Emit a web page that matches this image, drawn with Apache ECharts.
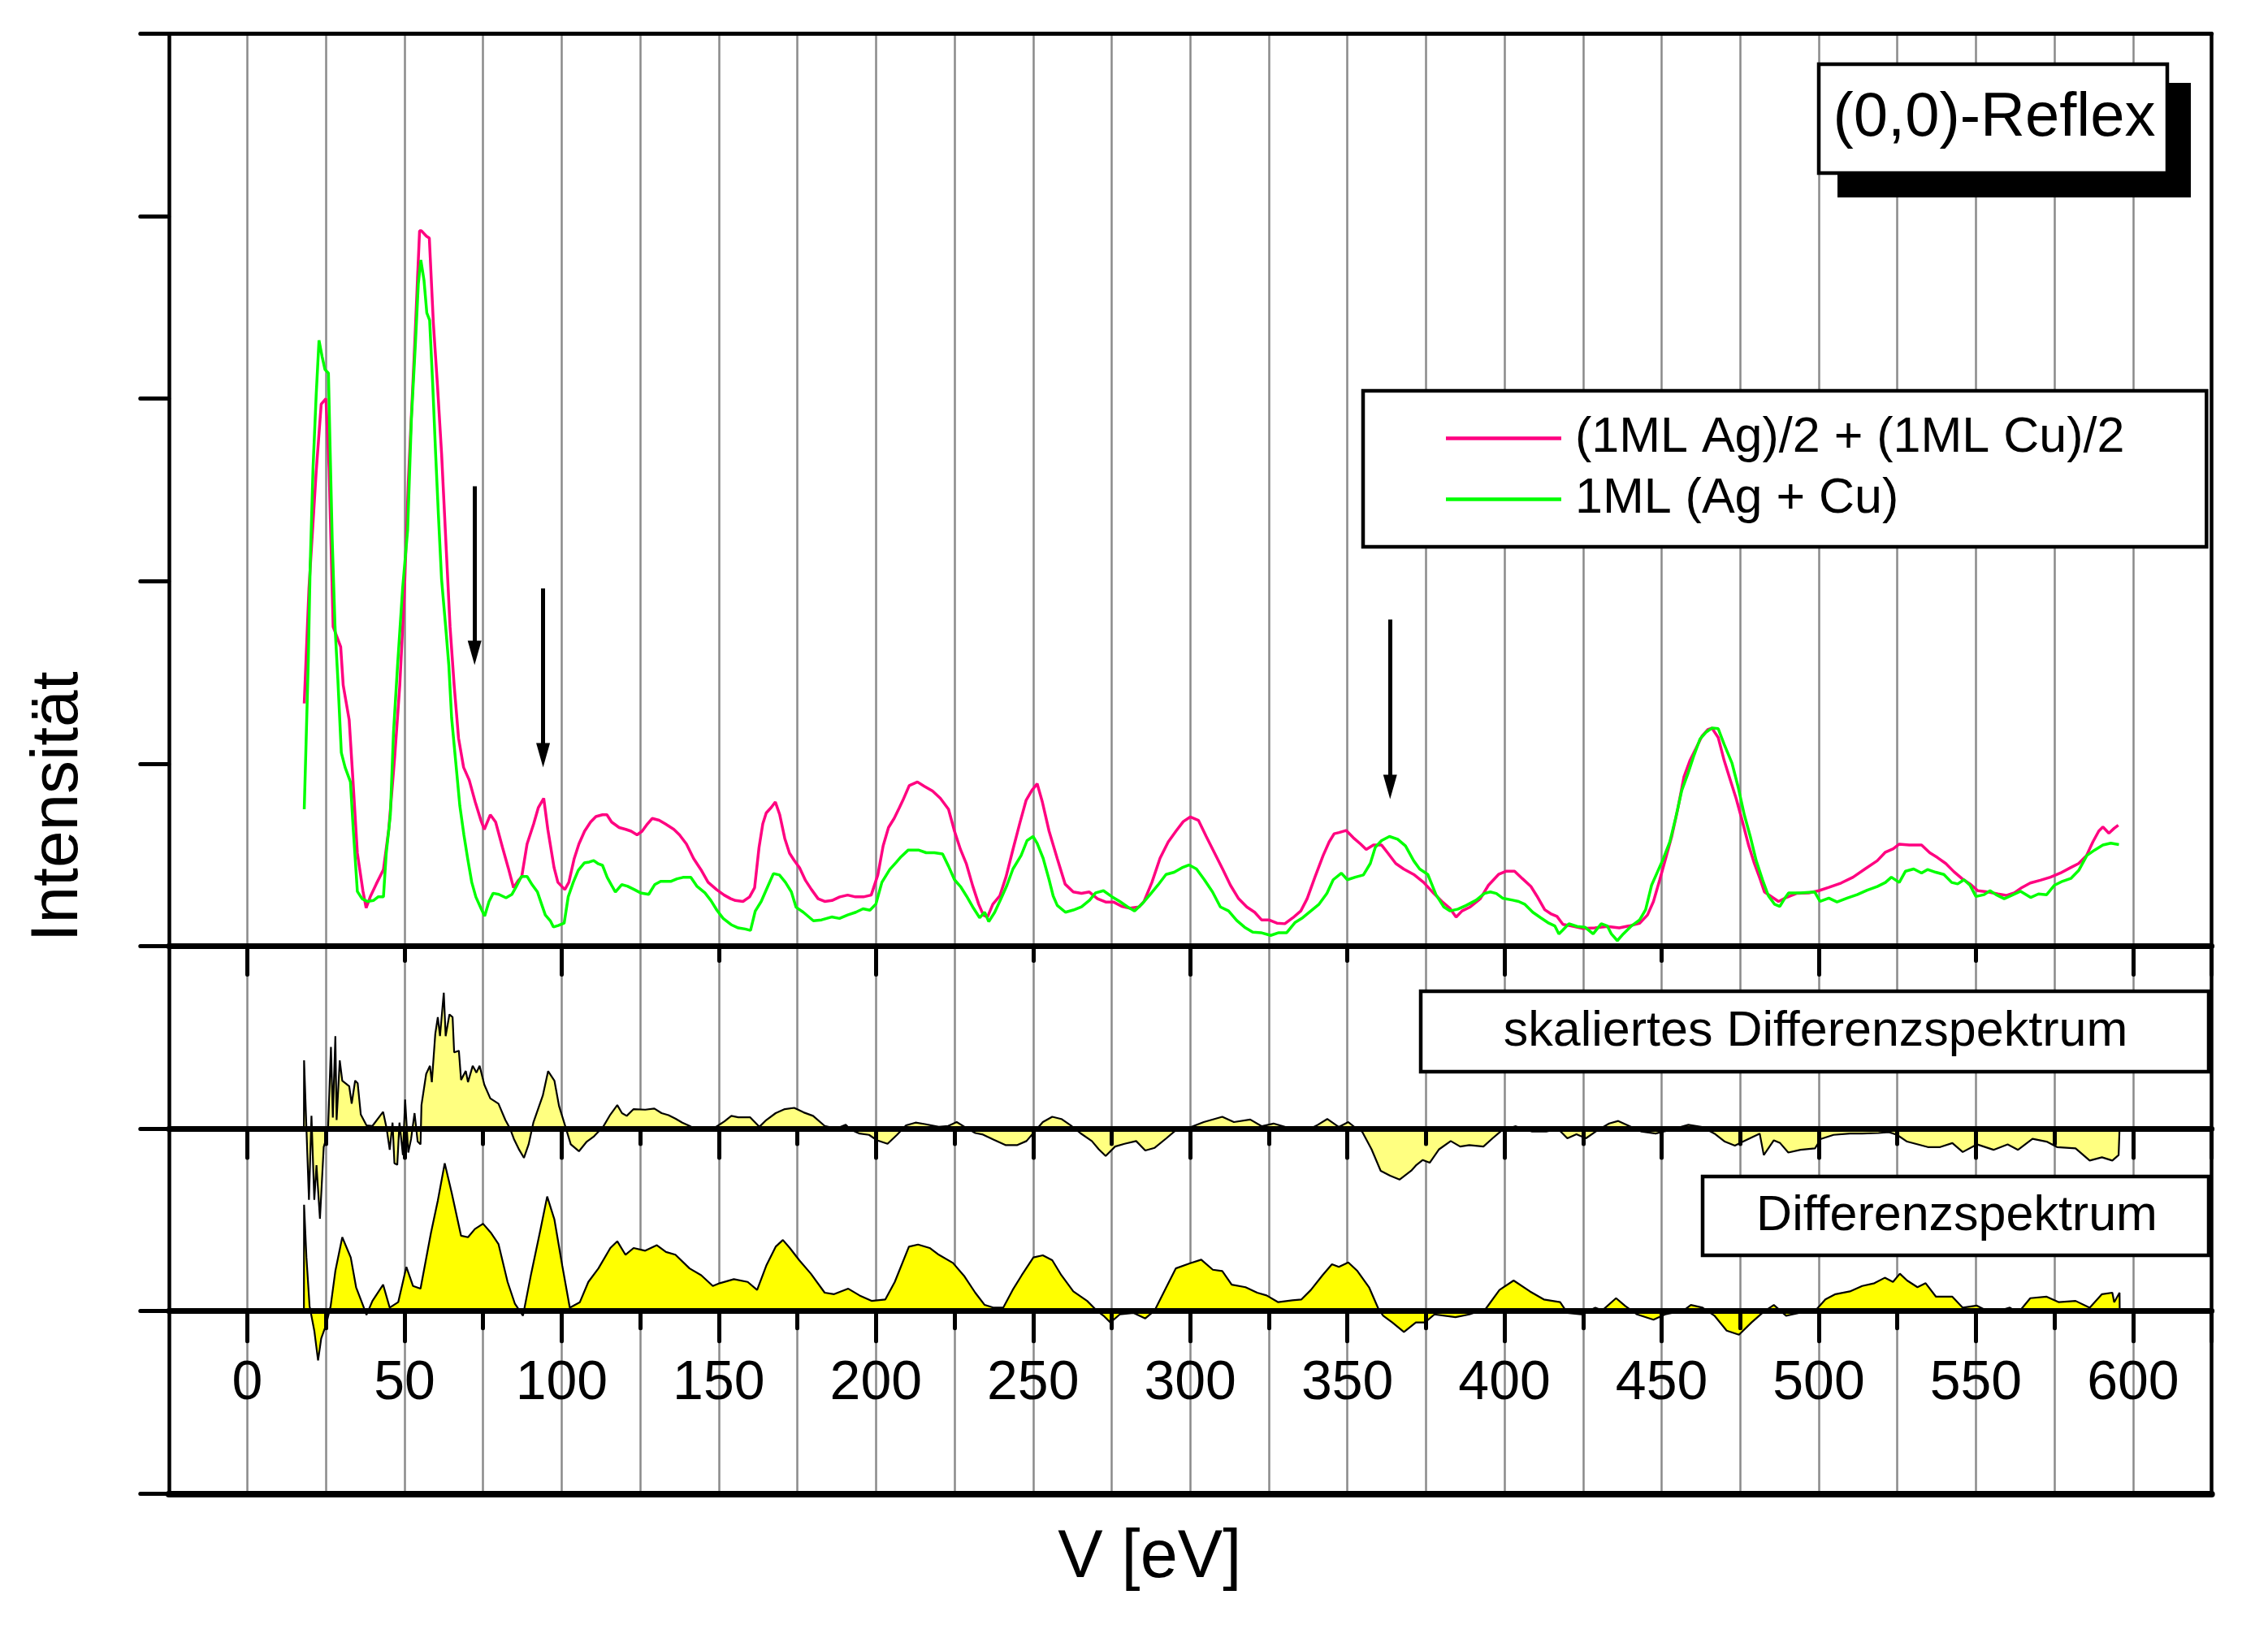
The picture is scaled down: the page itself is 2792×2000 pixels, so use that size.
<!DOCTYPE html>
<html>
<head>
<meta charset="utf-8">
<script src="https://cdn.jsdelivr.net/npm/echarts@6/dist/echarts.min.js"></script>
<style>
html,body{margin:0;padding:0;background:#fff;}
#chart{width:2792px;height:2000px;}
</style>
</head>
<body>
<div id="chart"></div>
<script>
// ---------------- data ----------------
// energy V [eV] , intensity (arbitrary units, 1 unit = 1 y-tick)
const pinkSeries = [[18.1,1.33],[19.6,1.96],[21.9,2.6],[23.5,2.97],[25,3.0],[26,2.62],[27.3,1.75],[29.7,1.64],[30.5,1.43],[32.4,1.24],[33.6,0.91],[35,0.51],[36.8,0.3],[37.8,0.21],[39.1,0.27],[41,0.34],[43.3,0.42],[45,0.64],[46.9,1.04],[48.5,1.43],[49.9,1.91],[51.2,2.54],[53.2,3.28],[54.8,3.92],[55.4,3.92],[57,3.89],[57.9,3.88],[59.2,3.41],[60.5,3.07],[61.8,2.7],[63.3,2.17],[64.5,1.75],[65.8,1.43],[67.2,1.14],[68.8,0.98],[70.6,0.91],[72.5,0.79],[74.3,0.69],[75.4,0.64],[77.3,0.72],[79,0.68],[81.2,0.54],[83,0.43],[84.7,0.32],[86.2,0.36],[87.3,0.38],[89,0.56],[91.1,0.67],[92.6,0.76],[94.3,0.81],[95.6,0.64],[97.6,0.43],[98.8,0.35],[101,0.31],[102.3,0.35],[104,0.48],[105.5,0.56],[107.3,0.63],[109.2,0.68],[110.9,0.71],[113,0.72],[114.4,0.72],[115.9,0.68],[118.3,0.65],[120.4,0.64],[122.1,0.63],[124,0.61],[125.6,0.63],[127.3,0.67],[128.8,0.7],[131,0.69],[133,0.67],[135.7,0.64],[137.5,0.61],[139.7,0.56],[142,0.48],[144.3,0.42],[146.6,0.35],[149.3,0.31],[151.7,0.28],[153.8,0.26],[155.3,0.25],[157.7,0.245],[159.8,0.27],[161.4,0.32],[162.8,0.54],[164,0.67],[165.1,0.73],[166.7,0.76],[168,0.79],[169.4,0.72],[171,0.59],[172.5,0.51],[174,0.47],[175.7,0.43],[177.6,0.36],[179.5,0.31],[181.6,0.26],[183.7,0.245],[186,0.25],[188.5,0.27],[191,0.28],[193.5,0.27],[196,0.27],[198.5,0.28],[200.6,0.39],[202.3,0.55],[204,0.65],[205.8,0.7],[207.5,0.76],[208.6,0.8],[210.6,0.88],[213.2,0.9],[215.4,0.876],[218,0.85],[220.5,0.81],[223.1,0.75],[225,0.63],[226.9,0.53],[228.8,0.45],[230.8,0.33],[232.7,0.23],[234.2,0.17],[235.5,0.16],[237.2,0.23],[239.4,0.275],[241.4,0.38],[243.6,0.53],[245.8,0.675],[247.8,0.8],[249.6,0.853],[251.3,0.89],[252.9,0.794],[255.1,0.63],[257.7,0.48],[260.2,0.34],[262.8,0.297],[265.4,0.289],[267.9,0.297],[270.5,0.26],[273.1,0.242],[275.6,0.242],[278.2,0.218],[280.8,0.208],[283.7,0.215],[285.3,0.245],[287.8,0.349],[290.4,0.482],[293,0.571],[295.5,0.631],[297.8,0.683],[300,0.708],[302.6,0.69],[305.1,0.601],[307.7,0.512],[310.3,0.423],[312.8,0.334],[315.4,0.26],[318,0.215],[320.5,0.186],[322.7,0.144],[325,0.144],[327.6,0.126],[330.1,0.123],[332.7,0.156],[335.2,0.193],[337.2,0.26],[339.7,0.379],[342.3,0.497],[344.2,0.571],[345.8,0.616],[347.4,0.623],[349.6,0.634],[351.9,0.594],[354.2,0.56],[356,0.53],[358.3,0.554],[360.9,0.554],[362.8,0.512],[365.4,0.453],[367.9,0.423],[371.1,0.393],[374.3,0.349],[377.5,0.289],[380.1,0.245],[382.6,0.208],[384.6,0.159],[386.5,0.193],[389.1,0.215],[392.3,0.26],[394.9,0.334],[398.1,0.393],[400.6,0.411],[403.2,0.411],[405.7,0.37],[408.4,0.327],[410.3,0.275],[412.8,0.2],[414.7,0.178],[416.7,0.163],[418.6,0.119],[421.2,0.111],[425,0.097],[428.8,0.1],[432.7,0.108],[436.5,0.1],[439.7,0.111],[443,0.126],[445.5,0.171],[447.4,0.245],[449.4,0.364],[451.3,0.482],[453.2,0.601],[455.1,0.75],[457.1,0.928],[459,1.017],[460.9,1.083],[462.8,1.15],[464.7,1.187],[466,1.195],[468,1.143],[469.9,1.017],[471.8,0.913],[473.7,0.809],[475.6,0.69],[477.6,0.557],[479.5,0.453],[481.4,0.364],[482.7,0.297],[484.6,0.275],[487.2,0.245],[489.7,0.267],[492.9,0.289],[496.8,0.292],[500,0.304],[503.2,0.322],[507.1,0.346],[510.9,0.378],[514.7,0.423],[518.6,0.468],[521.2,0.515],[523.7,0.534],[525.6,0.559],[528.8,0.554],[532.7,0.554],[535.3,0.512],[537.8,0.485],[540.4,0.453],[543,0.408],[545.5,0.371],[548.1,0.341],[550.6,0.304],[553.8,0.297],[557,0.286],[559.6,0.278],[562.2,0.292],[564.7,0.322],[567.3,0.346],[570.5,0.361],[573.7,0.378],[576.9,0.401],[580.1,0.43],[582.7,0.453],[585.2,0.497],[587.2,0.571],[589.1,0.631],[590.4,0.653],[592.3,0.619],[594,0.646],[595.3,0.663]];

const greenSeries = [[18.1,0.75],[18.6,1.06],[19.4,1.57],[20,2.09],[20.9,2.62],[21.9,3.02],[22.8,3.32],[23.8,3.23],[24.7,3.16],[25.8,3.14],[26.3,2.75],[27,2.23],[27.9,1.75],[28.8,1.46],[29.9,1.06],[31.1,0.98],[32.8,0.9],[33.7,0.64],[35,0.3],[36.5,0.26],[38.2,0.245],[40.1,0.25],[41.6,0.27],[43.3,0.27],[44.2,0.51],[45.5,0.72],[46.5,1.17],[47.8,1.54],[49.4,1.96],[51,2.28],[52.2,2.89],[53.5,3.31],[54.4,3.63],[55.2,3.76],[56.2,3.65],[57.1,3.47],[58,3.43],[59,3.07],[59.9,2.7],[60.8,2.36],[61.8,2.01],[63.1,1.75],[64.1,1.54],[65,1.25],[66.3,1.01],[67.6,0.77],[68.9,0.61],[70.1,0.48],[71.4,0.35],[72.7,0.27],[74.4,0.205],[75.5,0.165],[76.9,0.245],[78.2,0.29],[80,0.284],[82.3,0.265],[84.2,0.284],[85.5,0.324],[87.2,0.382],[89,0.382],[90.6,0.337],[92.3,0.297],[93.6,0.231],[94.8,0.171],[96.4,0.139],[97.4,0.105],[98.9,0.113],[100.8,0.126],[102.1,0.271],[103.7,0.35],[105.3,0.416],[107.2,0.456],[108.8,0.461],[110.2,0.469],[111.7,0.451],[113,0.443],[114.5,0.377],[116.2,0.324],[117.1,0.297],[119.1,0.337],[120.9,0.329],[123,0.311],[125.1,0.292],[127.7,0.284],[129.6,0.337],[131.5,0.355],[134.7,0.355],[136.7,0.369],[138.6,0.377],[141.1,0.377],[143,0.329],[145.6,0.292],[147.5,0.25],[149.4,0.197],[151.4,0.152],[153.9,0.118],[156.2,0.1],[158.4,0.094],[160.1,0.086],[161.6,0.192],[163.5,0.245],[165.5,0.324],[167.4,0.398],[169.3,0.39],[171.2,0.35],[173.1,0.297],[174.6,0.213],[176.9,0.186],[180.1,0.139],[182.7,0.144],[185.9,0.16],[188.4,0.152],[191,0.171],[193.6,0.186],[195.9,0.205],[198.1,0.197],[200,0.231],[201.9,0.35],[204.4,0.42],[206.5,0.46],[208,0.49],[210.3,0.527],[213.5,0.527],[216,0.512],[218.6,0.512],[221.2,0.505],[223.1,0.438],[225,0.364],[226.9,0.327],[228.8,0.275],[230.8,0.215],[233,0.156],[234.6,0.186],[235.9,0.134],[237.8,0.186],[239.8,0.26],[241.7,0.334],[243.6,0.423],[246.2,0.497],[248.1,0.579],[250,0.601],[251.3,0.564],[253.2,0.482],[255.1,0.364],[256.4,0.275],[257.7,0.223],[260.3,0.186],[262.8,0.198],[265.4,0.215],[268,0.252],[269.9,0.292],[272.4,0.304],[275,0.272],[277.6,0.245],[280.1,0.215],[282.3,0.193],[284.6,0.23],[287.2,0.282],[289.7,0.334],[292.3,0.393],[294.9,0.405],[297.4,0.43],[299.6,0.445],[302,0.423],[304.5,0.364],[307.1,0.297],[309.6,0.215],[312.2,0.193],[314.8,0.141],[317.3,0.104],[319.9,0.077],[322.5,0.074],[325.6,0.059],[328.2,0.074],[330.7,0.074],[333.3,0.129],[335.8,0.156],[338.4,0.193],[341,0.23],[343.5,0.289],[345.5,0.364],[348.1,0.4],[350,0.364],[352.5,0.378],[355.1,0.39],[357.3,0.453],[358.9,0.542],[360.9,0.579],[363.4,0.601],[366,0.586],[368.5,0.549],[371.1,0.468],[373,0.423],[375.6,0.393],[378.2,0.282],[380.7,0.215],[382.7,0.193],[385.2,0.203],[387.8,0.223],[391,0.252],[393.6,0.289],[395.5,0.297],[397.4,0.289],[399.4,0.263],[402.6,0.252],[404.5,0.245],[406.4,0.23],[409,0.186],[411.5,0.156],[414.1,0.126],[416,0.111],[417.3,0.067],[418.6,0.089],[420.5,0.123],[423.1,0.108],[425.6,0.104],[428.2,0.067],[430.8,0.123],[432.7,0.111],[434,0.067],[435.9,0.03],[437.8,0.067],[440.4,0.111],[443,0.144],[444.9,0.2],[446.8,0.334],[448.7,0.408],[450.6,0.482],[452.6,0.571],[454.5,0.705],[456.4,0.853],[458.3,0.942],[460.3,1.046],[462.2,1.135],[464.1,1.172],[466,1.195],[468,1.192],[469.9,1.106],[472.4,1.002],[474.4,0.868],[476.3,0.72],[478.2,0.601],[480.1,0.468],[482.1,0.364],[484,0.275],[485.9,0.23],[487.6,0.218],[489.1,0.26],[490.4,0.292],[494.2,0.292],[498.7,0.297],[500.4,0.245],[503.2,0.263],[505.8,0.242],[509,0.263],[512.2,0.282],[515.4,0.307],[518.6,0.327],[521.2,0.349],[523.1,0.378],[525.6,0.349],[527.6,0.411],[530.2,0.423],[532.7,0.401],[534.6,0.42],[537.2,0.405],[539.8,0.393],[542.3,0.349],[544.2,0.341],[546.2,0.364],[548.1,0.334],[550,0.272],[552.6,0.282],[554.5,0.304],[556.4,0.282],[559,0.26],[561,0.275],[564.2,0.301],[567.4,0.267],[569.9,0.286],[572.5,0.282],[575,0.334],[577.6,0.356],[580.2,0.371],[582.7,0.415],[585.3,0.497],[587.8,0.527],[590.4,0.554],[592.9,0.564],[595.5,0.557]];

const scaledDiffSeries = [[18,0],[18.05,0.374],[18.8,0.0],[19.6,-0.39],[20.4,0.07],[21.3,-0.39],[22,-0.2],[23.1,-0.494],[24.3,-0.1],[25,-0.06],[25.7,0.01],[26.6,0.448],[27.2,0.061],[28,0.507],[28.4,0.047],[29.4,0.374],[30.2,0.263],[32.4,0.233],[33.2,0.137],[34.3,0.263],[35.1,0.249],[36.1,0.077],[37.9,0.018],[39.8,0.015],[43.2,0.092],[44.3,0.003],[45.3,-0.116],[46.2,0.033],[46.8,-0.19],[47.7,-0.198],[48.4,0.033],[49.5,-0.145],[50.2,0.159],[51.2,-0.131],[52.1,-0.056],[53.2,0.085],[54.2,-0.071],[55.1,-0.086],[55.4,0.129],[56.9,0.3],[58.1,0.344],[58.7,0.255],[59.8,0.52],[60.6,0.611],[61.3,0.507],[62.5,0.745],[63.1,0.507],[64.3,0.626],[65.3,0.611],[65.8,0.418],[67.3,0.427],[68,0.267],[69.5,0.316],[70.2,0.255],[71.7,0.344],[72.9,0.307],[73.9,0.344],[75.4,0.241],[77.3,0.166],[79.9,0.137],[82.1,0.047],[83.6,0],[84.8,-0.056],[86.5,-0.116],[88,-0.16],[89.5,-0.086],[91,0.033],[94,0.181],[95.7,0.315],[97.7,0.263],[99.2,0.122],[101.4,0],[102.9,-0.086],[105.5,-0.124],[108,-0.071],[110.3,-0.042],[113.2,0.01],[115.5,0.077],[117.7,0.129],[119.2,0.085],[120.7,0.07],[122.9,0.107],[126.6,0.104],[129.5,0.11],[131.8,0.085],[134,0.074],[136.2,0.055],[138.4,0.033],[140.7,0.015],[143.6,-0.012],[147.3,-0.009],[149.6,0.015],[151.8,0.04],[154,0.07],[156.2,0.062],[160,0.062],[162.9,0.01],[165.1,0.047],[168.1,0.085],[171,0.107],[174,0.114],[177,0.089],[180,0.07],[183.7,0.015],[187.4,0],[190.4,0.021],[191.8,-0.004],[194.8,-0.027],[197.8,-0.034],[200.4,-0.064],[203.7,-0.083],[206.7,-0.034],[209.6,0.018],[212.6,0.033],[215.6,0.025],[220,0.01],[223,0.015],[225.7,0.036],[228.2,0.01],[231.6,-0.024],[233.8,-0.031],[237.5,-0.061],[241.2,-0.09],[245,-0.09],[247.9,-0.068],[250.1,-0.024],[253.1,0.036],[256.1,0.065],[259,0.053],[262,0.018],[265,-0.024],[268.7,-0.068],[270.9,-0.113],[273.1,-0.15],[276.1,-0.098],[279.1,-0.083],[282.8,-0.068],[285.7,-0.12],[288.7,-0.105],[292.4,-0.053],[295.4,-0.009],[299.8,0.006],[304.3,0.036],[310.2,0.065],[313.9,0.036],[319.1,0.05],[322.8,0.013],[326.5,0.028],[333.9,-0.009],[336.9,-0.012],[340.6,0.021],[343.6,0.053],[347.3,0.009],[350.3,0.036],[352.5,0.006],[354.7,-0.016],[357.7,-0.113],[360.6,-0.231],[363.6,-0.258],[366.6,-0.279],[370.3,-0.231],[371.8,-0.202],[374,-0.172],[376.2,-0.187],[379.2,-0.113],[382.9,-0.068],[385.9,-0.098],[388.8,-0.09],[393.3,-0.098],[396.2,-0.053],[399.2,-0.009],[403.6,0.013],[408.8,-0.016],[413.3,-0.016],[417,-0.001],[420,-0.053],[422.9,-0.031],[425.9,-0.053],[429.6,-0.009],[433.3,0.028],[436.2,0.042],[439.9,0.013],[443.6,-0.016],[448.1,-0.027],[454,-0.001],[458.5,0.021],[462.9,0.009],[466.8,-0.027],[470.1,-0.071],[473.3,-0.093],[475.9,-0.071],[481.2,-0.027],[482.5,-0.145],[485.7,-0.064],[487.7,-0.079],[490.3,-0.131],[494.2,-0.116],[498.8,-0.108],[500.7,-0.056],[504.7,-0.034],[509.9,-0.027],[513.8,-0.027],[519,-0.024],[522.3,-0.019],[524.9,-0.034],[528.1,-0.071],[530.8,-0.083],[534.7,-0.101],[538.6,-0.101],[542.5,-0.079],[545.8,-0.128],[550.3,-0.086],[555.6,-0.116],[560.1,-0.086],[563.4,-0.116],[568,-0.056],[572.5,-0.071],[575.8,-0.101],[581.7,-0.108],[586.2,-0.175],[590.1,-0.157],[593.4,-0.175],[595.4,-0.145],[595.7,0]];

const diffSeries = [[18,0],[18.05,0.583],[18.8,0.294],[19.8,0.027],[21.3,-0.107],[22.5,-0.27],[23.5,-0.15],[25,-0.077],[26.5,0.027],[28,0.22],[30.2,0.405],[32.9,0.294],[34.6,0.131],[36.9,0.027],[37.9,-0.021],[39.8,0.056],[43.2,0.145],[45.3,0.019],[48,0.049],[50.6,0.242],[52.7,0.138],[55.1,0.123],[58.4,0.427],[60.6,0.605],[62.8,0.81],[65,0.65],[68,0.413],[70.2,0.405],[72.4,0.45],[75,0.479],[77.6,0.427],[79.9,0.368],[82.8,0.16],[85.1,0.042],[87.7,-0.025],[90.3,0.205],[93.2,0.442],[95.4,0.628],[97.7,0.502],[100.2,0.249],[102.6,0.019],[105.8,0.049],[108.5,0.16],[111.7,0.234],[115.5,0.346],[117.7,0.383],[120.3,0.309],[122.9,0.346],[126.6,0.331],[130.3,0.361],[133.2,0.324],[136.2,0.309],[140.7,0.234],[144.4,0.197],[148.1,0.138],[150.3,0.153],[154.8,0.175],[159.2,0.16],[162.2,0.116],[165.1,0.249],[168.1,0.353],[170.4,0.39],[172.6,0.346],[175.6,0.279],[179.3,0.205],[183.7,0.101],[186.7,0.093],[191.2,0.123],[194.8,0.086],[198.6,0.056],[203,0.064],[206,0.16],[210.5,0.353],[213.4,0.365],[217.1,0.346],[220,0.309],[224.5,0.264],[228.2,0.19],[231.6,0.101],[234.6,0.034],[237.5,0.019],[240.5,0.019],[243.5,0.116],[246.4,0.197],[250.1,0.294],[253.1,0.306],[256.1,0.279],[259,0.197],[262.8,0.108],[267.2,0.056],[270.2,0.004],[272.4,-0.025],[274.6,-0.062],[277.6,-0.018],[282,-0.01],[285.7,-0.04],[288.7,0.004],[292.4,0.131],[295.4,0.234],[299.8,0.261],[303.5,0.282],[307.2,0.227],[310.2,0.22],[313.2,0.145],[317.6,0.131],[321.3,0.101],[324.3,0.086],[328,0.049],[332.5,0.059],[335.4,0.064],[338.4,0.116],[342.1,0.197],[345.1,0.257],[347.3,0.242],[350.3,0.267],[353.2,0.22],[356.9,0.131],[359.9,0.012],[361.4,-0.025],[364.3,-0.062],[368,-0.114],[371.8,-0.062],[374.7,-0.062],[377.7,-0.018],[384.4,-0.033],[388.8,-0.018],[394,0.012],[398.4,0.116],[402.9,0.168],[408.1,0.108],[412.5,0.064],[417.7,0.049],[420,-0.01],[424.4,-0.018],[428.9,0.019],[431.1,0.004],[435.5,0.071],[438.5,0.027],[442.2,-0.018],[447.4,-0.047],[451.1,-0.018],[457,0.004],[459.3,0.034],[463,0.019],[466.8,-0.025],[470.7,-0.107],[474.6,-0.129],[478.6,-0.062],[482.5,-0.003],[485.7,0.034],[489.6,-0.025],[491.6,-0.018],[495.5,-0.003],[499.4,0.012],[502.1,0.064],[505.3,0.093],[509.9,0.108],[513.8,0.138],[517.7,0.153],[521,0.183],[523.6,0.16],[525.8,0.205],[528.1,0.168],[531.4,0.131],[534,0.153],[537.3,0.079],[542.5,0.079],[545.8,0.019],[550.3,0.03],[554.9,-0.01],[560.8,0.019],[563.4,-0.01],[567.3,0.071],[572.5,0.079],[576.4,0.049],[581.7,0.056],[586.2,0.019],[590.1,0.093],[593.4,0.101],[594,0.049],[595.7,0.101],[595.75,0]];

// arrows: [energy, start intensity, tip intensity]
const arrowMarks = [[72.3, 2.52, 1.54], [94.1, 1.96, 0.98], [363.6, 1.79, 0.806]];

const xTickLabels = [0,50,100,150,200,250,300,350,400,450,500,550,600];
const seriesNames = ['(1ML Ag)/2 + (1ML Cu)/2', '1ML (Ag + Cu)'];
const boxTexts = ['(0,0)-Reflex', 'skaliertes Differenzspektrum', 'Differenzspektrum'];
const axisTitles = ['V [eV]', 'Intensität'];

// ---------------- layout ----------------
const FONT = 'Liberation Sans, Arial, sans-serif';
const X0 = 304.5;      // pixel of 0 eV
const K = 3.869;       // px per eV
const TOP = 41.5;      // top of frame
const U = 224.6;       // px per y tick
const FL = X0 - 25 * K;
const FW = 650 * K;
const LINE1 = TOP + 5 * U, LINE2 = TOP + 6 * U, LINE3 = TOP + 7 * U;

const chart = echarts.init(document.getElementById('chart'), null, {renderer: 'canvas'});

const hiddenY = (grid, min, max) => ({gridIndex: grid, type: 'value', min, max, show: false});
const lineX = (grid, width, onZero) => ({
  gridIndex: grid, type: 'value', min: -25, max: 625,
  axisLine: {show: true, onZero: onZero, lineStyle: {color: '#000', width: width}},
  axisTick: {show: false}, axisLabel: {show: false}, splitLine: {show: false}, z: 5
});
const tickX = (grid, interval, len, extra) => Object.assign({
  gridIndex: grid, type: 'value', min: 0, max: 625, interval: interval,
  axisLine: {show: false, onZero: false},
  axisTick: {show: true, length: len, lineStyle: {color: '#000', width: 5, cap: 'round'}},
  axisLabel: {show: false}, splitLine: {show: false}, z: 6
}, extra || {});
const tickGrid = (bottom) => ({left: X0, top: bottom - U, width: 625 * K, height: U});

const arrowLines = arrowMarks.map(a => [
  {coord: [a[0], a[1]], symbol: 'none'},
  {coord: [a[0], a[2] + 15 / U], symbol: 'triangle', symbolSize: [17, 30]}
]);

const option = {
  animation: false,
  backgroundColor: '#fff',
  grid: [
    {left: FL, top: TOP, width: FW, height: 8 * U},          // 0 frame
    {left: FL, top: TOP, width: FW, height: 5 * U},          // 1 top panel
    {left: FL, top: LINE1, width: FW, height: 2 * U},        // 2 scaled diff
    {left: FL, top: LINE2, width: FW, height: 2 * U},        // 3 diff
    tickGrid(LINE1), tickGrid(LINE1),                        // 4,5 ticks line 1
    tickGrid(LINE2), tickGrid(LINE2),                        // 6,7 ticks line 2
    tickGrid(LINE3), tickGrid(LINE3)                         // 8,9 ticks line 3
  ],
  xAxis: [
    {gridIndex: 0, type: 'value', min: -25, max: 625, interval: 25, position: 'bottom',
     axisLine: {show: true, onZero: false, lineStyle: {color: '#000', width: 8}},
     axisTick: {show: false}, axisLabel: {show: false},
     splitLine: {show: true, lineStyle: {color: '#8a8a8a', width: 2.5}},
     name: axisTitles[0], nameLocation: 'middle', nameGap: 38,
     nameTextStyle: {fontSize: 83, fontFamily: FONT, color: '#000', padding: [0, 100, 0, 0]}},
    {gridIndex: 0, type: 'value', min: -25, max: 625, position: 'top',
     axisLine: {show: true, onZero: false, lineStyle: {color: '#000', width: 5}},
     axisTick: {show: false}, axisLabel: {show: false}, splitLine: {show: false}},
    lineX(1, 7, false),
    lineX(2, 7, true),
    lineX(3, 7, true),
    tickX(4, 50, 18),
    tickX(5, 100, 35),
    tickX(6, 25, 19),
    tickX(7, 50, 36),
    tickX(8, 25, 21),
    tickX(9, 50, 37, {axisLabel: {show: true, margin: 56, fontSize: 68, fontFamily: FONT, color: '#000',
      formatter: v => xTickLabels.includes(v) ? String(v) : ''}})
  ],
  yAxis: [
    {gridIndex: 0, type: 'value', min: 0, max: 8, interval: 1, position: 'left',
     axisLine: {show: true, onZero: false, lineStyle: {color: '#000', width: 4.5}},
     axisTick: {show: true, inside: false, length: 35, lineStyle: {color: '#000', width: 5, cap: 'round'}},
     axisLabel: {show: false}, splitLine: {show: false},
     name: axisTitles[1], nameLocation: 'middle', nameGap: 94, nameRotate: 90,
     nameTextStyle: {fontSize: 82, fontFamily: FONT, color: '#000', padding: [0, 106, 0, 0]}},
    {gridIndex: 0, type: 'value', min: 0, max: 8, position: 'right',
     axisLine: {show: true, onZero: false, lineStyle: {color: '#000', width: 4.5}},
     axisTick: {show: false}, axisLabel: {show: false}, splitLine: {show: false}},
    hiddenY(1, 0, 5),
    hiddenY(2, -1, 1),
    hiddenY(3, -1, 1),
    hiddenY(4, 0, 1), hiddenY(5, 0, 1),
    hiddenY(6, 0, 1), hiddenY(7, 0, 1),
    hiddenY(8, 0, 1), hiddenY(9, 0, 1)
  ],
  legend: {
    data: seriesNames.map(n => ({name: n, icon: 'rect'})), orient: 'vertical', left: 1678, top: 481,
    itemWidth: 142, itemHeight: 4.5, itemGap: 14,
    padding: [28, 101, 28, 102],
    backgroundColor: '#fff', borderColor: '#000', borderWidth: 4.5, borderRadius: 0,
    selectedMode: false,
    textStyle: {fontSize: 61, fontFamily: FONT, color: '#000', lineHeight: 61, padding: [0, 0, 0, 12]}
  },
  series: [
    {name: seriesNames[0], type: 'line', xAxisIndex: 2, yAxisIndex: 2, data: pinkSeries,
     symbol: 'none', lineStyle: {color: '#ff0080', width: 3.5}, itemStyle: {color: '#ff0080'}, z: 3,
     markLine: {silent: true, animation: false, label: {show: false},
       lineStyle: {color: '#000', width: 5, type: 'solid'}, data: arrowLines}},
    {name: seriesNames[1], type: 'line', xAxisIndex: 2, yAxisIndex: 2, data: greenSeries,
     symbol: 'none', lineStyle: {color: '#00ff00', width: 3.5}, itemStyle: {color: '#00ff00'}, z: 3},
    {name: 'skaliertes Differenzspektrum', type: 'line', xAxisIndex: 3, yAxisIndex: 3, data: scaledDiffSeries,
     symbol: 'none', lineStyle: {color: '#000', width: 2.2}, areaStyle: {color: '#ffff80', opacity: 1}, z: 2},
    {name: 'Differenzspektrum', type: 'line', xAxisIndex: 4, yAxisIndex: 4, data: diffSeries,
     symbol: 'none', lineStyle: {color: '#000', width: 2.2}, areaStyle: {color: '#ffff00', opacity: 1}, z: 2}
  ],
  graphic: [
    {type: 'rect', z: 100, shape: {x: 2262, y: 102, width: 435, height: 141}, style: {fill: '#000'}},
    {type: 'rect', z: 101, shape: {x: 2239, y: 79, width: 429, height: 134},
     style: {fill: '#fff', stroke: '#000', lineWidth: 4.5}},
    {type: 'text', z: 102, x: 2455, y: 146,
     style: {text: boxTexts[0], font: '76px ' + FONT, fill: '#000', align: 'center', verticalAlign: 'middle'}},
    {type: 'rect', z: 101, shape: {x: 1749, y: 1220, width: 970, height: 99},
     style: {fill: '#fff', stroke: '#000', lineWidth: 4.5}},
    {type: 'text', z: 102, x: 2235, y: 1270,
     style: {text: boxTexts[1], font: '61px ' + FONT, fill: '#000', align: 'center', verticalAlign: 'middle'}},
    {type: 'rect', z: 101, shape: {x: 2096, y: 1448, width: 623, height: 97},
     style: {fill: '#fff', stroke: '#000', lineWidth: 4.5}},
    {type: 'text', z: 102, x: 2409, y: 1497,
     style: {text: boxTexts[2], font: '61px ' + FONT, fill: '#000', align: 'center', verticalAlign: 'middle'}}
  ]
};
chart.setOption(option);
</script>
</body>
</html>
